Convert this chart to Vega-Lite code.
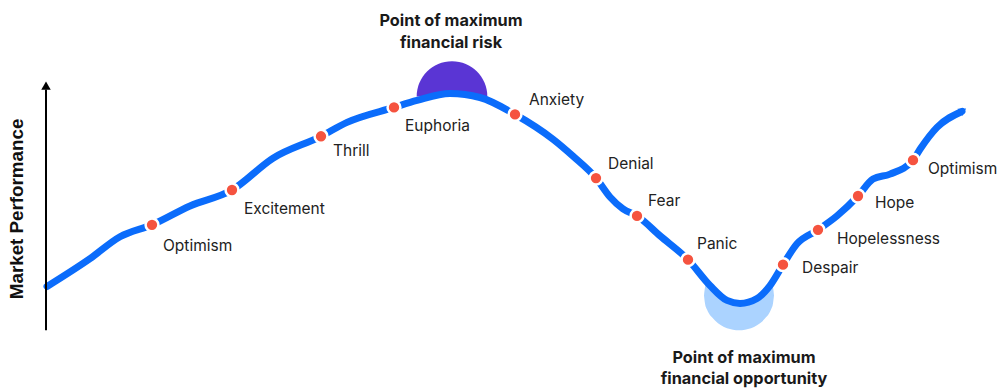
{
  "$schema": "https://vega.github.io/schema/vega-lite/v6.json",
  "width": 1000,
  "height": 388,
  "autosize": {"type": "fit", "contains": "padding"},
  "padding": 0,
  "background": "white",
  "config": {"view": {"stroke": null}},
  "datasets": {
    "curve": [
      {"x": 47, "perf": 100}, {"x": 90, "perf": 128}, {"x": 120, "perf": 150}, {"x": 152, "perf": 162},
      {"x": 190, "perf": 181}, {"x": 232, "perf": 197}, {"x": 273, "perf": 229}, {"x": 321, "perf": 251},
      {"x": 347, "perf": 265}, {"x": 394, "perf": 280}, {"x": 417, "perf": 287}, {"x": 450, "perf": 294},
      {"x": 480, "perf": 290}, {"x": 515, "perf": 273}, {"x": 553, "perf": 248}, {"x": 573, "perf": 231},
      {"x": 596, "perf": 209}, {"x": 610, "perf": 190}, {"x": 623, "perf": 178}, {"x": 637, "perf": 171},
      {"x": 660, "perf": 151}, {"x": 688, "perf": 127}, {"x": 710, "perf": 101}, {"x": 727, "perf": 86},
      {"x": 740, "perf": 83}, {"x": 757, "perf": 88}, {"x": 770, "perf": 101}, {"x": 783, "perf": 122},
      {"x": 797, "perf": 143}, {"x": 818, "perf": 157}, {"x": 837, "perf": 171}, {"x": 858, "perf": 191},
      {"x": 873, "perf": 208}, {"x": 890, "perf": 213}, {"x": 913, "perf": 227}, {"x": 920, "perf": 238},
      {"x": 937, "perf": 260}, {"x": 962, "perf": 276}
    ],
    "trough": [
      {"x": 704, "up": 91, "lo": 91},
      {"x": 705, "up": 99, "lo": 83},
      {"x": 707, "up": 104, "lo": 77},
      {"x": 709, "up": 102, "lo": 73},
      {"x": 712, "up": 99, "lo": 69},
      {"x": 718, "up": 93, "lo": 63},
      {"x": 724, "up": 88, "lo": 59.4},
      {"x": 730, "up": 85, "lo": 57.2},
      {"x": 736, "up": 83.5, "lo": 56.1},
      {"x": 742, "up": 83, "lo": 56.1},
      {"x": 748, "up": 84.5, "lo": 57.2},
      {"x": 754, "up": 87, "lo": 59.4},
      {"x": 760, "up": 90.5, "lo": 63},
      {"x": 766, "up": 96, "lo": 69},
      {"x": 769, "up": 99.5, "lo": 73},
      {"x": 771, "up": 102, "lo": 77},
      {"x": 773, "up": 99, "lo": 83},
      {"x": 774, "up": 91, "lo": 91}
    ],
    "stages": [
      {"stage": "Optimism", "x": 152, "perf": 162, "lx": 163, "ly": 141},
      {"stage": "Excitement", "x": 232, "perf": 197, "lx": 244, "ly": 178},
      {"stage": "Thrill", "x": 321, "perf": 251, "lx": 333, "ly": 236},
      {"stage": "Euphoria", "x": 394, "perf": 280, "lx": 405, "ly": 261},
      {"stage": "Anxiety", "x": 515, "perf": 273, "lx": 529, "ly": 287},
      {"stage": "Denial", "x": 596, "perf": 209, "lx": 608, "ly": 223},
      {"stage": "Fear", "x": 637, "perf": 171, "lx": 648, "ly": 186},
      {"stage": "Panic", "x": 688, "perf": 127, "lx": 697, "ly": 143},
      {"stage": "Despair", "x": 783, "perf": 122, "lx": 802, "ly": 119},
      {"stage": "Hopelessness", "x": 818, "perf": 157, "lx": 837, "ly": 148},
      {"stage": "Hope", "x": 858, "perf": 191, "lx": 875, "ly": 184},
      {"stage": "Optimism", "x": 913, "perf": 227, "lx": 928, "ly": 218}
    ],
    "notes": [
      {"text": "Point of maximum", "x": 451, "perf": 367},
      {"text": "financial risk", "x": 451, "perf": 345},
      {"text": "Point of maximum", "x": 744, "perf": 28},
      {"text": "financial opportunity", "x": 744, "perf": 7}
    ]
  },
  "layer": [
    {
      "data": {"values": [{"x": 452, "perf": 291}]},
      "mark": {"type": "point", "shape": "M -1 0 A 1 1 0 0 1 1 0 Z", "filled": true, "size": 5000, "color": "#5A35D4", "opacity": 1},
      "encoding": {
        "x": {"field": "x", "type": "quantitative", "scale": {"domain": [0, 1000], "nice": false, "zero": false}, "axis": null},
        "y": {"field": "perf", "type": "quantitative", "scale": {"domain": [0, 388], "nice": false, "zero": false}, "axis": null}
      }
    },
    {
      "data": {"name": "trough"},
      "mark": {"type": "area", "interpolate": "monotone", "color": "#ABD3FF", "opacity": 1},
      "encoding": {
        "x": {"field": "x", "type": "quantitative"},
        "y": {"field": "up", "type": "quantitative"},
        "y2": {"field": "lo"}
      }
    },
    {
      "data": {"name": "curve"},
      "mark": {"type": "line", "interpolate": "monotone", "color": "#0B6CFB", "strokeWidth": 7, "strokeCap": "round", "strokeJoin": "round"},
      "encoding": {
        "x": {"field": "x", "type": "quantitative"},
        "y": {"field": "perf", "type": "quantitative"}
      }
    },
    {
      "data": {"values": [{"x": 963, "perf": 277}]},
      "mark": {"type": "point", "shape": "triangle-up", "filled": true, "size": 75, "angle": 57, "color": "#0B6CFB", "opacity": 1},
      "encoding": {
        "x": {"field": "x", "type": "quantitative"},
        "y": {"field": "perf", "type": "quantitative"}
      }
    },
    {
      "data": {"name": "stages"},
      "mark": {"type": "point", "filled": true, "size": 165, "color": "#F5533F", "stroke": "white", "strokeWidth": 2.5, "opacity": 1},
      "encoding": {
        "x": {"field": "x", "type": "quantitative"},
        "y": {"field": "perf", "type": "quantitative"}
      }
    },
    {
      "data": {"name": "stages"},
      "mark": {"type": "text", "align": "left", "baseline": "middle", "font": "Inter", "fontSize": 15.5, "color": "#222222"},
      "encoding": {
        "x": {"field": "lx", "type": "quantitative"},
        "y": {"field": "ly", "type": "quantitative"},
        "text": {"field": "stage", "type": "nominal"}
      }
    },
    {
      "data": {"name": "notes"},
      "mark": {"type": "text", "align": "center", "baseline": "middle", "font": "Inter", "fontWeight": "bold", "fontSize": 16.3, "color": "#1a1a1a"},
      "encoding": {
        "x": {"field": "x", "type": "quantitative"},
        "y": {"field": "perf", "type": "quantitative"},
        "text": {"field": "text", "type": "nominal"}
      }
    },
    {
      "data": {"values": [{"x": 46, "perf": 56, "perf2": 298}]},
      "mark": {"type": "rule", "color": "black", "strokeWidth": 2},
      "encoding": {
        "x": {"field": "x", "type": "quantitative"},
        "y": {"field": "perf", "type": "quantitative"},
        "y2": {"field": "perf2"}
      }
    },
    {
      "data": {"values": [{"x": 46, "perf": 302}]},
      "mark": {"type": "point", "shape": "triangle-up", "filled": true, "size": 90, "color": "black", "opacity": 1},
      "encoding": {
        "x": {"field": "x", "type": "quantitative"},
        "y": {"field": "perf", "type": "quantitative"}
      }
    },
    {
      "data": {"values": [{"text": "Market Performance", "x": 17, "perf": 178}]},
      "mark": {"type": "text", "angle": 270, "align": "center", "baseline": "middle", "font": "Liberation Sans", "fontWeight": "bold", "fontSize": 18.8, "color": "#111111"},
      "encoding": {
        "x": {"field": "x", "type": "quantitative"},
        "y": {"field": "perf", "type": "quantitative"},
        "text": {"field": "text", "type": "nominal"}
      }
    }
  ]
}
